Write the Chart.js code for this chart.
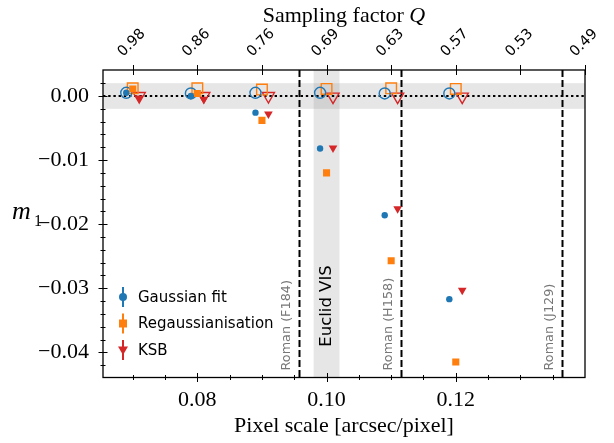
<!DOCTYPE html>
<html>
<head>
<meta charset="utf-8">
<script src="https://cdn.jsdelivr.net/npm/chart.js@4.4.0/dist/chart.umd.min.js"></script>
<style>
  html, body { margin: 0; padding: 0; background: #fff; }
  #wrap { width: 614px; height: 443px; position: relative; }
</style>
</head>
<body>
<div id="wrap"><canvas id="chart"></canvas></div>
<script>
// pixel scale of each simulated setup (arcsec/pixel)
const pixelScale = [0.07, 0.08, 0.09, 0.10, 0.11, 0.12];

// m1 bias, filled markers
const gaussFit = [0.0005, 0.0000, -0.0026, -0.0082, -0.0186, -0.0317];
const regauss  = [0.0011, 0.0004, -0.0038, -0.0120, -0.0257, -0.0415];
const ksb      = [-0.0003, -0.0005, -0.0028, -0.0081, -0.0176, -0.0303];

// m1 bias, open markers
const gaussFitOpen = [0.0005, 0.0004, 0.0005, 0.0005, 0.0004, 0.0004];
const regaussOpen  = [0.0012, 0.0012, 0.0010, 0.0011, 0.0012, 0.0011];
const ksbOpen      = [0.0000, 0.0000, 0.0000, -0.0001, -0.0001, -0.0001];

const seriesNames = ['Gaussian fit', 'Regaussianisation', 'KSB'];

// axes
const xTicks = [0.08, 0.10, 0.12];
const xMinor = [0.07, 0.075, 0.085, 0.09, 0.095, 0.105, 0.11, 0.115, 0.125, 0.13, 0.135];
const yTicks = [0, -0.01, -0.02, -0.03, -0.04];
const yMinor = [0.002, -0.002, -0.004, -0.006, -0.008, -0.012, -0.014, -0.016, -0.018,
  -0.022, -0.024, -0.026, -0.028, -0.032, -0.034, -0.036, -0.038, -0.042];
const qTickPos = [0.07, 0.08, 0.09, 0.10, 0.11, 0.12, 0.13, 0.14];
const qLabels = ['0.98', '0.86', '0.76', '0.69', '0.63', '0.57', '0.53', '0.49'];

// instrument markers
const romanScale = [0.0957, 0.1115, 0.1364];
const romanNames = ['Roman (F184)', 'Roman (H158)', 'Roman (J129)'];
const euclidScale = 0.10;
const euclidHalfWidth = 0.002;
const zeroBand = 0.002;

const BLUE = '#1f77b4', ORANGE = '#ff7f0e', RED = '#d62728';
const dodge = 0.001;
const SERIF = '"Liberation Serif", "DejaVu Serif", serif';
const SANS = '"DejaVu Sans", sans-serif';

const pts = (vals, off) => pixelScale.map((x, i) => ({ x: x + off, y: vals[i] }));

function filled(label, vals, off, color, style, r, rot) {
  return {
    label: label, data: pts(vals, off), showLine: false,
    pointStyle: style, pointRadius: r, pointRotation: rot || 0,
    pointBackgroundColor: color, pointBorderColor: color, pointBorderWidth: 0
  };
}
function open(label, vals, off, color, style, r, rot) {
  return {
    label: label, data: pts(vals, off), showLine: false,
    pointStyle: style, pointRadius: r, pointRotation: rot || 0,
    pointBackgroundColor: 'rgba(0,0,0,0)', pointBorderColor: color, pointBorderWidth: 1.4
  };
}

function minus(v) {
  return v.toFixed(2).replace('-', '\u2212');
}

const decor = {
  id: 'decor',
  beforeDatasetsDraw(chart) {
    const { ctx, chartArea: a, scales } = chart;
    const x = scales.x, y = scales.y;
    ctx.save();
    ctx.fillStyle = 'rgba(128,128,128,0.2)';
    const y1 = y.getPixelForValue(zeroBand), y2 = y.getPixelForValue(-zeroBand);
    ctx.fillRect(a.left, y1, a.right - a.left, y2 - y1);
    const e1 = x.getPixelForValue(euclidScale - euclidHalfWidth);
    const e2 = x.getPixelForValue(euclidScale + euclidHalfWidth);
    ctx.fillRect(e1, a.top, e2 - e1, a.bottom - a.top);

    // roman dashed lines
    ctx.strokeStyle = '#000';
    ctx.lineWidth = 2;
    ctx.setLineDash([7, 3]);
    romanScale.forEach(v => {
      const px = Math.round(x.getPixelForValue(v)) + 0.5;
      ctx.beginPath(); ctx.moveTo(px, a.top); ctx.lineTo(px, a.bottom); ctx.stroke();
    });
    // zero line
    ctx.setLineDash([2.4, 2.8]);
    ctx.lineWidth = 2.2;
    const y0 = Math.round(y.getPixelForValue(0));
    ctx.beginPath(); ctx.moveTo(a.left, y0); ctx.lineTo(a.right, y0); ctx.stroke();
    ctx.setLineDash([]);

    // labels
    ctx.fillStyle = '#777';
    ctx.font = '12.8px ' + SANS;
    ctx.textAlign = 'left';
    ctx.textBaseline = 'middle';
    romanScale.forEach((v, i) => {
      const px = x.getPixelForValue(v) - 12;
      ctx.save(); ctx.translate(px, a.bottom - 7); ctx.rotate(-Math.PI / 2);
      ctx.fillText(romanNames[i], 0, 0); ctx.restore();
    });
    ctx.fillStyle = '#000';
    ctx.font = '16.5px ' + SANS;
    ctx.textAlign = 'center';
    ctx.save(); ctx.translate(x.getPixelForValue(euclidScale), 306); ctx.rotate(-Math.PI / 2);
    ctx.fillText('Euclid VIS', 0, 0); ctx.restore();
    ctx.restore();
  },
  afterDraw(chart) {
    const { ctx, chartArea: a, scales } = chart;
    const x = scales.x, y = scales.y;
    ctx.save();
    ctx.strokeStyle = '#000';
    ctx.lineWidth = 1;
    const line = (x1, y1, x2, y2) => { ctx.beginPath(); ctx.moveTo(x1, y1); ctx.lineTo(x2, y2); ctx.stroke(); };
    xTicks.forEach(v => { const p = Math.round(x.getPixelForValue(v)) + 0.5; line(p, a.bottom - 4.5, p, a.bottom + 4.5); });
    xMinor.forEach(v => { const p = Math.round(x.getPixelForValue(v)) + 0.5; line(p, a.bottom - 2.5, p, a.bottom + 2.5); });
    yTicks.forEach(v => { const p = Math.round(y.getPixelForValue(v)) + 0.5; line(a.left - 4.5, p, a.left + 4.5, p); });
    yMinor.forEach(v => { const p = Math.round(y.getPixelForValue(v)) + 0.5; line(a.left - 2.5, p, a.left + 2.5, p); });
    qTickPos.forEach(v => { const p = Math.round(x.getPixelForValue(v)) + 0.5; line(p, a.top - 5, p, a.top + 5); });
    ctx.lineWidth = 1.3;
    ctx.strokeRect(a.left, a.top, a.right - a.left, a.bottom - a.top);

    // top tick labels
    ctx.fillStyle = '#000';
    ctx.font = '14.5px ' + SANS;
    ctx.textAlign = 'center';
    ctx.textBaseline = 'middle';
    qTickPos.forEach((v, i) => {
      ctx.save(); ctx.translate(x.getPixelForValue(v) - 1, a.top - 27); ctx.rotate(-Math.PI / 4);
      ctx.fillText(qLabels[i], 0, 0); ctx.restore();
    });

    // titles
    ctx.textBaseline = 'alphabetic';
    const cx = (a.left + a.right) / 2;
    ctx.font = '22px ' + SERIF;
    ctx.textAlign = 'center';
    ctx.fillText('Pixel scale [arcsec/pixel]', cx, 432);
    const t1 = 'Sampling factor ';
    const w1 = ctx.measureText(t1).width;
    ctx.font = 'italic 22px ' + SERIF;
    const w2 = ctx.measureText('Q').width;
    ctx.textAlign = 'left';
    const sx = cx - (w1 + w2) / 2;
    ctx.font = '22px ' + SERIF;
    ctx.fillText(t1, sx, 22);
    ctx.font = 'italic 22px ' + SERIF;
    ctx.fillText('Q', sx + w1, 22);
    // y title
    ctx.font = 'italic 26px ' + SERIF;
    ctx.fillText('m', 12, 219);
    ctx.font = '16px ' + SERIF;
    ctx.fillText('1', 34, 226);

    // legend
    const colors = [BLUE, ORANGE, RED];
    const ly = [297, 323.5, 350];
    const mx = 123;
    ctx.font = '15px ' + SANS;
    ctx.textBaseline = 'middle';
    seriesNames.forEach((name, i) => {
      ctx.strokeStyle = colors[i]; ctx.fillStyle = colors[i];
      ctx.lineWidth = 2;
      line(mx, ly[i] - 10, mx, ly[i] + 10);
      ctx.beginPath();
      if (i === 0) ctx.arc(mx, ly[i], 4, 0, Math.PI * 2);
      else if (i === 1) ctx.rect(mx - 4, ly[i] - 4, 8, 8);
      else { ctx.moveTo(mx - 5, ly[i] - 3.5); ctx.lineTo(mx + 5, ly[i] - 3.5); ctx.lineTo(mx, ly[i] + 5); ctx.closePath(); }
      ctx.fill();
      ctx.fillStyle = '#000';
      ctx.fillText(name, 138, ly[i] + 1);
    });
    ctx.restore();
  }
};

const ctx = document.getElementById('chart').getContext('2d');
new Chart(ctx, {
  type: 'scatter',
  data: {
    datasets: [
      filled(seriesNames[0], gaussFit, -dodge, BLUE, 'circle', 3.2),
      filled(seriesNames[1], regauss, 0, ORANGE, 'rect', 5),
      filled(seriesNames[2], ksb, dodge, RED, 'triangle', 5, 180),
      open(seriesNames[0] + ' (open)', gaussFitOpen, -dodge, BLUE, 'circle', 5.5),
      open(seriesNames[1] + ' (open)', regaussOpen, 0, ORANGE, 'rect', 7.5),
      open(seriesNames[2] + ' (open)', ksbOpen, dodge, RED, 'triangle', 7, 180)
    ]
  },
  options: {
    responsive: true,
    maintainAspectRatio: false,
    animation: false,
    layout: { padding: { left: 0, right: 29, top: 0, bottom: 0 } },
    plugins: { legend: { display: false }, tooltip: { enabled: false } },
    scales: {
      x: {
        type: 'linear', position: 'bottom', min: 0.0654, max: 0.14,
        grid: { display: false }, border: { display: false },
        afterBuildTicks: s => { s.ticks = xTicks.map(v => ({ value: v })); },
        afterFit: s => { s.height = 65.5; },
        ticks: { color: '#000', font: { family: SERIF, size: 22 }, padding: 2,
                 maxRotation: 0, callback: v => v.toFixed(2) }
      },
      x2: {
        type: 'linear', position: 'top', min: 0.0654, max: 0.14,
        grid: { display: false }, border: { display: false },
        ticks: { display: false },
        afterFit: s => { s.height = 70; }
      },
      y: {
        type: 'linear', position: 'left', min: -0.04393, max: 0.00406,
        grid: { display: false }, border: { display: false },
        afterBuildTicks: s => { s.ticks = yTicks.map(v => ({ value: v })); },
        afterFit: s => { s.width = 103; },
        ticks: { color: '#000', font: { family: SERIF, size: 22 }, padding: 6,
                 callback: v => minus(v) }
      }
    }
  },
  plugins: [decor]
});
</script>
</body>
</html>
